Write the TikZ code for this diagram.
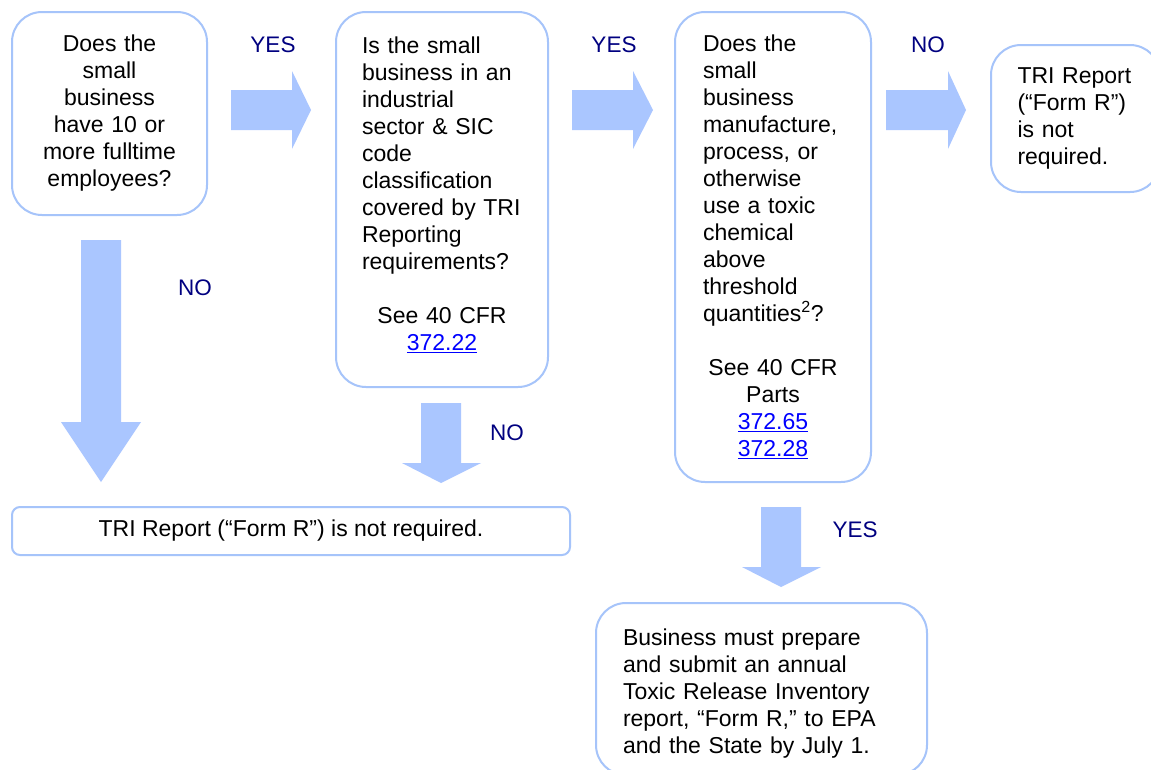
\documentclass[tikz,border=0pt]{standalone}
\usepackage{fontspec}
\setmainfont{Liberation Sans}
\definecolor{boxblue}{RGB}{166,196,250}
\definecolor{arrowblue}{RGB}{170,198,255}
\definecolor{navy}{RGB}{0,0,128}
\definecolor{linkblue}{RGB}{0,0,255}
\newcommand{\lnk}[1]{\textcolor{linkblue}{\underline{#1}}}
\begin{document}
\begin{tikzpicture}[x=1pt,y=-1pt,
  box/.style={draw=boxblue, line width=2pt, rounded corners=30pt, fill=white, inner sep=0pt,
    font=\fontsize{23pt}{27pt}\selectfont},
  lbl/.style={text=navy, inner sep=0pt, font=\fontsize{22.5pt}{27pt}\selectfont},
  blockarrow/.style={fill=arrowblue, draw=none}]
\clip (0,0) rectangle (1151,769);
\fill[white] (0,0) rectangle (1151,769);

% boxes
\node[box, minimum width=195pt, minimum height=203pt, text width=175pt, align=center] (q1) at (109.5,113.5)
  {Does the\\ small\\ business\\ have 10 or\\ more fulltime\\ employees?};
\node[box, minimum width=212pt, minimum height=375pt, text width=160pt, align=left] (q2) at (442,199.5)
  {Is the small\\ business in an\\ industrial\\ sector \& SIC\\ code\\ classification\\ covered by TRI\\ Reporting\\ requirements?\par\vspace{27pt}\centering See 40 CFR\\ \lnk{372.22}\rule[-12pt]{0pt}{1pt}\par};
\node[box, minimum width=196pt, minimum height=470pt, text width=140pt, align=left] (q3) at (773,247)
  {Does the\\ small\\ business\\ manufacture,\\ process, or\\ otherwise\\ use a toxic\\ chemical\\ above\\ threshold\\ quantities\textsuperscript{2}?\par\vspace{27pt}\centering See 40 CFR\\ Parts\\ \lnk{372.65}\\ \lnk{372.28}\par};
\node[box, minimum width=169pt, minimum height=147pt, text width=116pt, align=left] (nr1) at (1075.5,118.5)
  {TRI Report\\ (“Form R”)\\ is not\\ required.};
\node[box, rounded corners=8pt, minimum width=558pt, minimum height=48pt, align=center] (nr2) at (291,531)
  {TRI Report (“Form R”) is not required.};
\node[box, minimum width=331pt, minimum height=172pt, text width=277pt, align=left] (rep) at (761.5,689)
  {\rule{0pt}{25pt}Business must prepare\\ and submit an annual\\ Toxic Release Inventory\\ report, “Form R,” to EPA\\ and the State by July 1.};

% block arrows
\fill[blockarrow] (231,90) -- (292,90) -- (292,71) -- (311,110) -- (292,149) -- (292,130) -- (231,130) -- cycle;
\fill[blockarrow] (572,90) -- (633,90) -- (633,71) -- (653,110) -- (633,149) -- (633,130) -- (572,130) -- cycle;
\fill[blockarrow] (886,90) -- (948,90) -- (948,71) -- (966,110) -- (948,149) -- (948,130) -- (886,130) -- cycle;
\fill[blockarrow] (81,240) -- (121,240) -- (121,422) -- (141,422) -- (101,482) -- (61,422) -- (81,422) -- cycle;
\fill[blockarrow] (421,403) -- (461,403) -- (461,463) -- (481,463) -- (441,483) -- (402,463) -- (421,463) -- cycle;
\fill[blockarrow] (761,507) -- (801,507) -- (801,567) -- (821,567) -- (781,587) -- (742,567) -- (761,567) -- cycle;

% labels
\node[lbl] (y1) at (273,45) {YES};
\node[lbl] (y2) at (614,45) {YES};
\node[lbl] (n3) at (928,45) {NO};
\node[lbl] (n1) at (195,288) {NO};
\node[lbl] (n2) at (507,433) {NO};
\node[lbl] (y3) at (855,530) {YES};
\end{tikzpicture}
\end{document}
